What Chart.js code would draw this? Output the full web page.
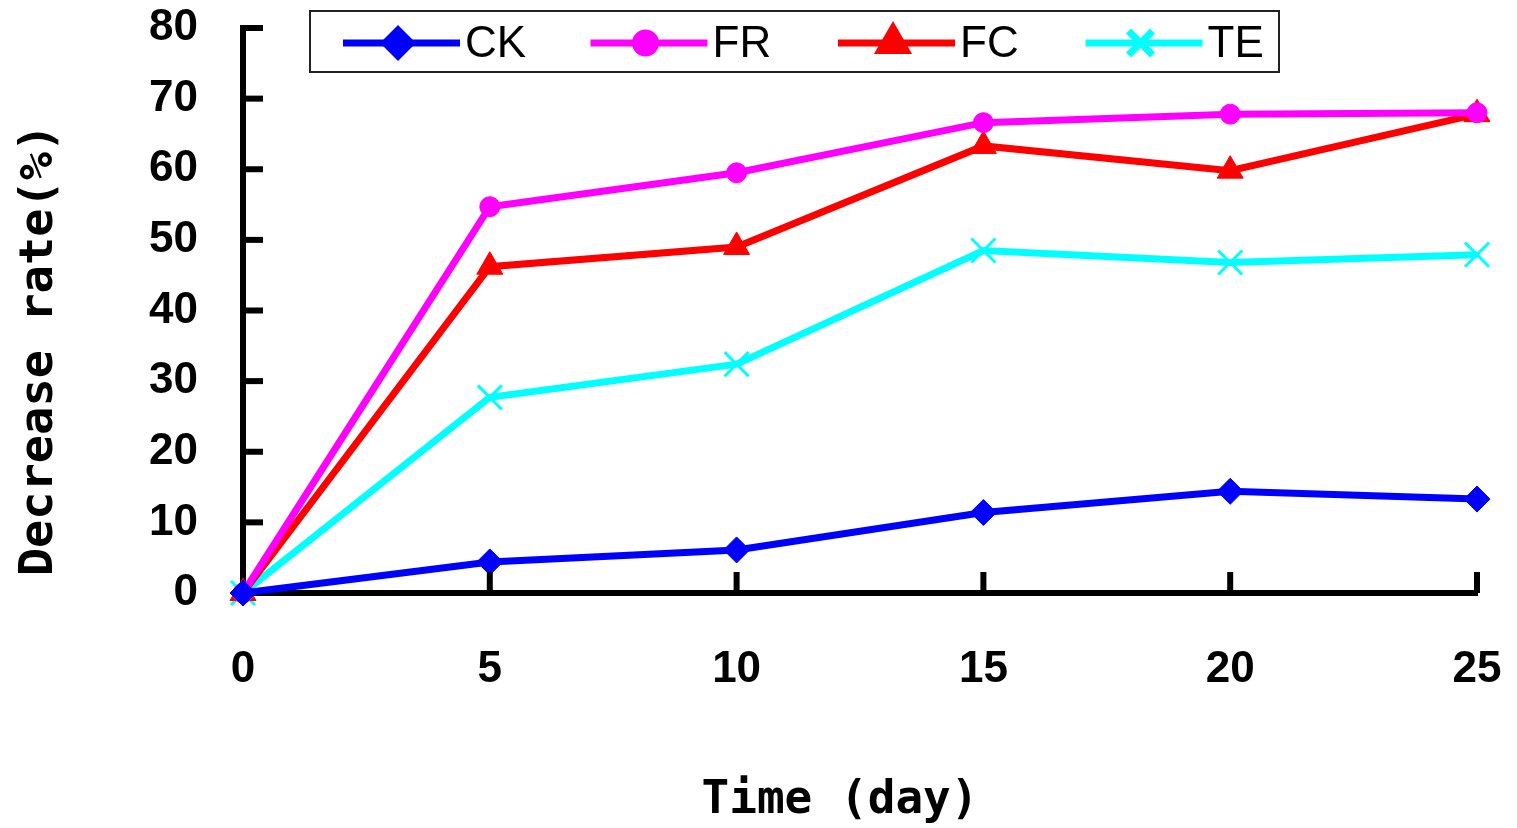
<!DOCTYPE html>
<html>
<head>
<meta charset="utf-8">
<script src="https://cdn.jsdelivr.net/npm/chart.js@4/dist/chart.umd.min.js"></script>
<style>
html,body{margin:0;padding:0;background:#fff;}
#wrap{width:1517px;height:828px;position:relative;}
</style>
</head>
<body>
<div id="wrap"><canvas id="c" width="1517" height="828"></canvas></div>
<script>
const days = [0, 5, 10, 15, 20, 25];
const ckValues = [0, 4.4, 6.1, 11.4, 14.4, 13.3];
const frValues = [0, 54.7, 59.5, 66.6, 67.8, 68.0];
const fcValues = [0, 46.2, 49.0, 63.3, 59.8, 67.8];
const teValues = [0, 27.7, 32.4, 48.5, 46.8, 47.9];
const seriesNames = ['CK', 'FR', 'FC', 'TE'];
const yTickValues = [0, 10, 20, 30, 40, 50, 60, 70, 80];
const xTickValues = [0, 5, 10, 15, 20, 25];
const xTitle = 'Time (day)';
const yTitle = 'Decrease rate(%)';

const toPts = vals => days.map((d, i) => ({x: d, y: vals[i]}));

const styles = [
  {color: '#0000FF', pointStyle: 'rectRot', radius: 13, pbw: 1},
  {color: '#FF00FF', pointStyle: 'circle', radius: 10, pbw: 1},
  {color: '#FF0000', pointStyle: 'triangle', radius: 15, pbw: 1},
  {color: '#00FFFF', pointStyle: 'crossRot', radius: 17, pbw: 3}
];
const allValues = [ckValues, frValues, fcValues, teValues];

const datasets = allValues.map((vals, i) => ({
  label: seriesNames[i],
  data: toPts(vals),
  borderColor: styles[i].color,
  backgroundColor: styles[i].color,
  pointBackgroundColor: styles[i].color,
  pointBorderColor: styles[i].color,
  pointStyle: styles[i].pointStyle,
  pointRadius: styles[i].radius,
  pointBorderWidth: styles[i].pbw,
  borderWidth: 7,
  tension: 0,
  clip: false
}));

const decorPlugin = {
  id: 'decor',
  afterDraw(chart) {
    const ctx = chart.ctx;
    const xs = chart.scales.x, ys = chart.scales.y;
    const area = chart.chartArea;
    ctx.save();
    ctx.strokeStyle = '#000';
    ctx.lineWidth = 6;
    yTickValues.forEach(v => {
      if (v === 0) return;
      const py = ys.getPixelForValue(v);
      ctx.beginPath();
      ctx.moveTo(area.left, py);
      ctx.lineTo(area.left + 20, py);
      ctx.stroke();
    });
    xTickValues.forEach(v => {
      if (v === 0) return;
      const px = xs.getPixelForValue(v);
      ctx.beginPath();
      ctx.moveTo(px, area.bottom);
      ctx.lineTo(px, area.bottom - 21);
      ctx.stroke();
    });
    ctx.fillStyle = '#000';
    ctx.textAlign = 'center';
    ctx.textBaseline = 'middle';
    ctx.font = 'bold 46px "DejaVu Sans Mono"';
    ctx.fillText(xTitle, 840, 801);
    ctx.font = 'bold 47px "DejaVu Sans Mono"';
    ctx.translate(40, 350);
    ctx.rotate(-Math.PI / 2);
    ctx.fillText(yTitle, 0, 0);
    ctx.restore();

    ctx.save();
    ctx.fillStyle = '#fff';
    ctx.fillRect(310, 11, 969, 61);
    ctx.strokeStyle = '#222';
    ctx.lineWidth = 2;
    ctx.strokeRect(310, 11, 969, 61);
    chart.data.datasets.forEach((ds, i) => {
      const x0 = 343 + i * 247.5;
      const y0 = 43;
      ctx.strokeStyle = ds.borderColor;
      ctx.lineWidth = 7;
      ctx.beginPath();
      ctx.moveTo(x0, y0);
      ctx.lineTo(x0 + 117, y0);
      ctx.stroke();
      ctx.fillStyle = ds.backgroundColor;
      Chart.helpers.drawPoint(ctx, {
        pointStyle: ds.pointStyle,
        radius: ds.pointRadius,
        borderWidth: ds.pointBorderWidth,
        rotation: 0
      }, x0 + 55, y0);
      ctx.fillStyle = '#000';
      ctx.font = '44px "Liberation Sans"';
      ctx.textAlign = 'left';
      ctx.textBaseline = 'middle';
      ctx.fillText(ds.label, x0 + 122, y0 + 2);
    });
    ctx.restore();
  }
};

new Chart(document.getElementById('c'), {
  type: 'line',
  data: {datasets},
  options: {
    responsive: false,
    animation: false,
    events: [],
    layout: {padding: {top: 28, right: 40, left: 0, bottom: 0}},
    plugins: {legend: {display: false}, tooltip: {enabled: false}},
    scales: {
      x: {
        type: 'linear',
        min: 0, max: 25,
        afterBuildTicks: s => { s.ticks = xTickValues.map(v => ({value: v})); },
        afterFit: s => { s.height = 235; s.paddingLeft = 0; s.paddingRight = 0; },
        grid: {display: false, drawTicks: false},
        border: {display: true, color: '#000', width: 6},
        ticks: {
          color: '#000',
          padding: 50,
          font: {family: '"Liberation Sans"', size: 44, weight: 'bold'}
        }
      },
      y: {
        min: 0, max: 80,
        afterBuildTicks: s => { s.ticks = yTickValues.map(v => ({value: v})); },
        afterFit: s => { s.width = 243; s.paddingTop = 0; s.paddingBottom = 0; },
        grid: {display: false, drawTicks: false},
        border: {display: true, color: '#000', width: 6},
        ticks: {
          color: '#000',
          padding: 45,
          font: {family: '"Liberation Sans"', size: 44, weight: 'bold'}
        }
      }
    }
  },
  plugins: [decorPlugin]
});
</script>
</body>
</html>
